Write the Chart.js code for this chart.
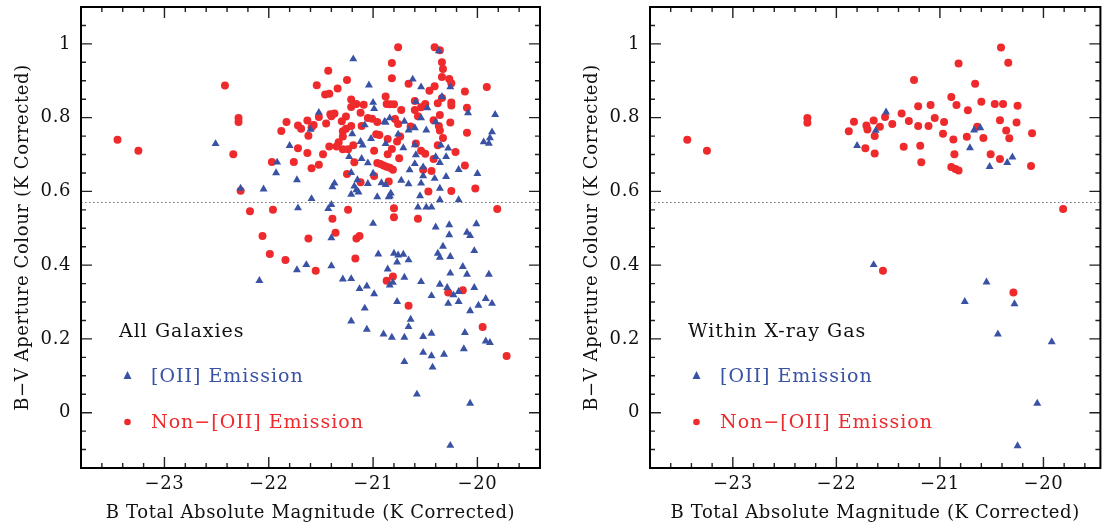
<!DOCTYPE html>
<html lang="en">
<head>
    <meta charset="UTF-8">
    <title>B-V Colour vs B Absolute Magnitude</title>
    <script src="https://cdn.jsdelivr.net/npm/chart.js"></script>
    <style>
        body {
            margin: 0;
            background: #fff;
        }
        .panel {
            position: absolute;
            top: 0;
        }
        #allPanel { left: 0; }
        #gasPanel { left: 560px; }
    </style>
</head>
<body>
    <canvas id="allPanel" class="panel" width="555" height="526"></canvas>
    <canvas id="gasPanel" class="panel" width="545" height="526"></canvas>

    <script>
        // ---- Data: B total absolute magnitude / B-V aperture colour ----

        // All galaxies, [OII] emission
        const allOiiMag = [
            -22.51, -22.27, -21.19, -21.04, -21.00, -20.99, -21.52, -21.08, -20.89, -21.60,
            -21.20, -21.80, -21.12, -21.10, -21.02, -20.88, -21.23, -21.11, -21.05, -21.92,
            -21.93, -21.73, -21.21, -21.00, -21.15, -21.37, -21.39, -21.18, -21.16, -21.14,
            -21.05, -20.92, -20.88, -21.21, -20.96, -20.85, -22.05, -21.59, -21.72, -21.43,
            -21.40, -21.00, -21.40,
            -20.37, -20.62, -20.54, -20.26, -20.34, -20.59, -20.48, -20.84, -20.70, -20.54,
            -20.40, -20.09, -19.83, -20.88, -20.76, -20.66, -20.60, -20.49, -20.71, -20.60,
            -20.59, -20.35, -20.28, -20.30, -20.40, -20.36, -20.60, -20.52, -20.65, -20.18,
            -20.00, -19.94, -19.88, -19.86, -19.89, -20.73, -20.66, -20.54, -20.52, -20.41,
            -20.30, -20.36, -20.84, -20.83, -20.55, -20.36, -20.18, -20.57, -20.49, -20.44,
            -20.40, -20.27, -20.27, -20.01, -20.10, -20.07, -20.33,
            -22.09, -21.73, -21.64, -21.40, -20.95, -21.29, -21.21, -21.13, -21.06, -20.99,
            -21.08, -21.21, -21.06, -20.90,
            -20.80, -20.76, -20.71, -20.77, -20.66, -20.86, -20.70, -20.84, -20.81, -20.54,
            -20.38, -20.36, -20.26, -20.03, -20.14, -20.26, -20.10, -19.89, -20.36, -20.29,
            -20.23, -20.18, -20.03, -20.44, -20.28, -20.18, -20.07, -19.99, -19.92, -19.86,
            -20.77, -20.64, -20.66, -20.82, -20.70, -20.52, -20.44, -20.12, -19.92, -19.88,
            -20.52, -20.44, -20.32, -20.13, -20.70, -20.43, -20.58, -20.07, -20.26
        ];
        const allOiiCol = [
            0.729, 0.608, 0.959, 0.888, 0.841, 0.824, 0.814, 0.780, 0.789, 0.768,
            0.756, 0.724, 0.735, 0.725, 0.743, 0.729, 0.694, 0.689, 0.677, 0.679,
            0.650, 0.631, 0.651, 0.649, 0.631, 0.622, 0.612, 0.614, 0.604, 0.598,
            0.621, 0.623, 0.618, 0.592, 0.585, 0.585, 0.606, 0.580, 0.555, 0.553,
            0.564, 0.513, 0.474,
            0.981, 0.904, 0.883, 0.883, 0.857, 0.843, 0.826, 0.799, 0.790, 0.799,
            0.788, 0.813, 0.808, 0.787, 0.755, 0.766, 0.772, 0.766, 0.718, 0.726,
            0.699, 0.725, 0.717, 0.694, 0.694, 0.678, 0.675, 0.666, 0.658, 0.659,
            0.648, 0.734, 0.745, 0.761, 0.730, 0.630, 0.620, 0.622, 0.642, 0.635,
            0.640, 0.608, 0.588, 0.595, 0.588, 0.577, 0.577, 0.557, 0.557, 0.557,
            0.503, 0.509, 0.482, 0.512, 0.489, 0.480, 0.451,
            0.358, 0.387, 0.401, 0.398, 0.430, 0.362, 0.363, 0.336, 0.343, 0.322,
            0.283, 0.248, 0.226, 0.213,
            0.432, 0.427, 0.429, 0.408, 0.414, 0.389, 0.367, 0.346, 0.353, 0.355,
            0.432, 0.421, 0.423, 0.439, 0.396, 0.378, 0.375, 0.375, 0.348, 0.339,
            0.319, 0.328, 0.339, 0.317, 0.296, 0.301, 0.276, 0.291, 0.309, 0.296,
            0.301, 0.253, 0.233, 0.204, 0.204, 0.206, 0.215, 0.217, 0.194, 0.190,
            0.163, 0.154, 0.158, 0.173, 0.138, 0.123, 0.050, 0.025, -0.089
        ];

        // All galaxies, no [OII] emission
        const allNonMag = [
            -22.42, -22.29, -22.29, -23.45, -23.25, -22.34, -22.27,
            -21.43, -21.25, -21.54, -21.34, -21.46, -21.42, -20.88, -21.21, -21.16, -21.21,
            -21.09, -20.87, -21.12, -21.41, -21.37, -21.40, -21.26, -21.52, -21.05, -21.01,
            -20.96, -21.63, -21.83, -21.30, -21.45, -21.72, -21.69, -21.57, -21.59, -21.21,
            -21.26, -21.29, -21.11, -21.88, -21.62, -21.29, -20.97, -20.94, -20.86, -21.33,
            -21.19, -21.42, -21.35, -21.29, -21.72, -21.24, -20.99, -21.63, -21.48, -20.86,
            -21.97, -21.76, -21.18, -20.96, -20.93, -20.90, -20.87, -20.84, -20.81, -21.52,
            -21.59, -21.25, -21.12, -20.99, -22.18, -21.96, -21.24, -21.39, -21.36, -22.06,
            -21.62, -21.16, -21.13, -20.82, -20.82,
            -20.76, -20.41, -20.36, -20.34, -20.33, -20.34, -20.27, -20.25, -20.66, -20.41,
            -20.46, -20.12, -19.91, -20.60, -20.34, -20.84, -20.80, -20.50, -20.38, -20.25,
            -20.25, -20.60, -20.54, -20.73, -20.10, -20.36, -20.57, -20.79, -20.76, -20.42,
            -20.26, -20.37, -20.36, -20.64, -20.10, -20.74, -20.33, -20.77, -20.59, -20.38,
            -20.82, -20.54, -20.50, -20.21, -20.75, -20.42, -20.12, -20.52, -20.44, -20.85,
            -20.47, -20.25, -20.02, -20.80, -20.80, -20.57, -19.81,
            -21.99, -21.84, -21.55, -21.17, -20.87, -20.81, -20.66, -20.28, -20.14, -19.95,
            -19.72
        ];
        const allNonCol = [
            0.887, 0.799, 0.788, 0.740, 0.710, 0.701, 0.602,
            0.927, 0.902, 0.888, 0.879, 0.863, 0.865, 0.857, 0.849, 0.837, 0.829,
            0.835, 0.837, 0.813, 0.809, 0.811, 0.804, 0.803, 0.802, 0.799, 0.797,
            0.788, 0.792, 0.788, 0.790, 0.784, 0.779, 0.770, 0.780, 0.774, 0.777,
            0.770, 0.763, 0.777, 0.764, 0.751, 0.749, 0.755, 0.753, 0.742, 0.733,
            0.725, 0.722, 0.722, 0.714, 0.717, 0.714, 0.710, 0.704, 0.701, 0.701,
            0.680, 0.680, 0.679, 0.677, 0.674, 0.670, 0.667, 0.664, 0.659, 0.672,
            0.663, 0.647, 0.625, 0.642, 0.546, 0.550, 0.550, 0.526, 0.488, 0.479,
            0.472, 0.472, 0.479, 0.907, 0.948,
            0.991, 0.991, 0.983, 0.950, 0.932, 0.910, 0.905, 0.893, 0.892, 0.885,
            0.873, 0.871, 0.883, 0.845, 0.853, 0.836, 0.836, 0.837, 0.839, 0.841,
            0.833, 0.821, 0.828, 0.821, 0.827, 0.807, 0.804, 0.796, 0.783, 0.793,
            0.787, 0.777, 0.765, 0.776, 0.759, 0.749, 0.745, 0.735, 0.730, 0.725,
            0.715, 0.710, 0.702, 0.707, 0.690, 0.688, 0.670, 0.659, 0.655, 0.627,
            0.600, 0.601, 0.608, 0.554, 0.530, 0.526, 0.552,
            0.430, 0.414, 0.385, 0.418, 0.358, 0.369, 0.290, 0.326, 0.332, 0.232,
            0.154
        ];

        // Galaxies within the X-ray gas, [OII] emission
        const gasOiiMag = [
            -21.80, -21.62, -21.52, -20.67, -20.61, -20.71, -20.52, -20.35, -20.30,
            -21.64, -20.55, -20.76, -20.28, -20.44, -19.92, -20.06, -20.25
        ];
        const gasOiiCol = [
            0.724, 0.765, 0.815, 0.766, 0.772, 0.718, 0.667, 0.678, 0.693,
            0.401, 0.354, 0.301, 0.295, 0.213, 0.192, 0.025, -0.090
        ];

        // Galaxies within the X-ray gas, no [OII] emission
        const gasNonMag = [
            -23.44, -23.25, -22.28, -22.28, -21.88, -21.83, -21.71, -21.70, -21.64, -21.63,
            -21.72, -21.63, -20.41, -20.34, -20.82, -21.25, -20.66, -20.89, -21.21, -21.09,
            -20.84, -20.60, -20.47, -20.39, -20.25, -20.73, -21.37, -21.53, -21.58, -21.46,
            -21.30, -21.21, -21.11, -21.05, -20.96, -20.42, -20.26, -20.36, -20.64, -20.97,
            -20.87, -20.74, -20.58, -20.33, -20.11, -21.35, -21.19, -21.18, -20.86, -20.51,
            -20.42, -20.89, -20.85, -20.82, -20.12, -19.81, -21.55, -20.29
        ];
        const gasNonCol = [
            0.740, 0.710, 0.799, 0.786, 0.763, 0.789, 0.779, 0.768, 0.792, 0.750,
            0.717, 0.703, 0.990, 0.949, 0.947, 0.902, 0.892, 0.856, 0.831, 0.834,
            0.834, 0.843, 0.837, 0.837, 0.832, 0.820, 0.811, 0.802, 0.775, 0.783,
            0.791, 0.777, 0.777, 0.799, 0.788, 0.793, 0.787, 0.765, 0.775, 0.756,
            0.741, 0.748, 0.745, 0.744, 0.758, 0.721, 0.724, 0.679, 0.701, 0.701,
            0.688, 0.666, 0.661, 0.657, 0.669, 0.552, 0.385, 0.326
        ];

        // Axis labels and the colour cut
        const magTicks = [-23, -22, -21, -20];
        const colTicks = [0, 0.2, 0.4, 0.6, 0.8, 1];
        const colourCut = 0.57;

        const BLUE = '#3a52a3';
        const RED = '#ee2a2d';
        const FONT = '"DejaVu Serif", serif';

        const zip = (xs, ys) => xs.map((x, i) => ({ x: x, y: ys[i] }));
        const minus = v => (v < 0 ? '\u2212' + Math.abs(v) : String(v));

        // Frame, inward ticks on all four sides, dotted colour cut and the key
        const framePlugin = {
            id: 'frame',
            beforeLayout(chart) {
                // wide, plotter-style lettering
                chart.ctx.letterSpacing = '0.6px';
            },
            beforeDraw(chart) {
                chart.ctx.letterSpacing = '0.6px';
            },
            afterDatasetsDraw(chart, args, opts) {
                const { ctx, chartArea: a, scales: { x, y } } = chart;
                ctx.save();

                // dotted line at the colour cut
                ctx.strokeStyle = '#777';
                ctx.lineWidth = 1;
                ctx.setLineDash([1.6, 2.4]);
                const yc = Math.round(y.getPixelForValue(colourCut)) + 0.5;
                ctx.beginPath();
                ctx.moveTo(a.left, yc);
                ctx.lineTo(a.right, yc);
                ctx.stroke();
                ctx.setLineDash([]);

                // tick marks
                ctx.strokeStyle = '#222';
                ctx.lineWidth = 1.4;
                ctx.beginPath();
                for (let i = Math.ceil(x.min / 0.2 - 1e-6); i * 0.2 <= x.max + 1e-6; i++) {
                    const px = x.getPixelForValue(i * 0.2);
                    const len = i % 5 === 0 ? 11 : 5;
                    ctx.moveTo(px, a.bottom); ctx.lineTo(px, a.bottom - len);
                    ctx.moveTo(px, a.top); ctx.lineTo(px, a.top + len);
                }
                for (let i = Math.ceil(y.min / 0.05 - 1e-6); i * 0.05 <= y.max + 1e-6; i++) {
                    const py = y.getPixelForValue(i * 0.05);
                    const len = i % 4 === 0 ? 11 : 5;
                    ctx.moveTo(a.left, py); ctx.lineTo(a.left + len, py);
                    ctx.moveTo(a.right, py); ctx.lineTo(a.right - len, py);
                }
                ctx.stroke();

                // frame
                ctx.strokeStyle = '#000';
                ctx.lineWidth = 2;
                ctx.strokeRect(a.left, a.top, a.right - a.left, a.bottom - a.top);

                // key
                const kx = a.left;
                ctx.textAlign = 'left';
                ctx.textBaseline = 'alphabetic';
                ctx.letterSpacing = '1px';
                ctx.font = '19px ' + FONT;
                ctx.fillStyle = '#111';
                ctx.fillText(opts.title, kx + 38, 337);

                ctx.fillStyle = BLUE;
                ctx.beginPath();
                ctx.moveTo(kx + 46.5, 371);
                ctx.lineTo(kx + 50.5, 379);
                ctx.lineTo(kx + 42.5, 379);
                ctx.closePath();
                ctx.fill();
                ctx.fillText('[OII] Emission', kx + 70, 382);

                ctx.fillStyle = RED;
                ctx.beginPath();
                ctx.arc(kx + 46.5, 422, 3.3, 0, Math.PI * 2);
                ctx.fill();
                ctx.fillText('Non\u2212[OII] Emission', kx + 70, 428);

                ctx.restore();
            }
        };

        function makePanel(canvasId, title, oii, non, padLeft, padRight, magMax) {
            return new Chart(document.getElementById(canvasId), {
                type: 'scatter',
                data: {
                    datasets: [
                        {
                            label: '[OII] Emission',
                            data: oii,
                            pointStyle: 'triangle',
                            pointRadius: 4.6,
                            backgroundColor: BLUE,
                            borderWidth: 0
                        },
                        {
                            label: 'Non-[OII] Emission',
                            data: non,
                            pointStyle: 'circle',
                            pointRadius: 4,
                            backgroundColor: RED,
                            borderWidth: 0
                        }
                    ]
                },
                options: {
                    responsive: false,
                    animation: false,
                    layout: { padding: { left: padLeft, right: padRight, top: 7, bottom: 0 } },
                    plugins: {
                        legend: { display: false },
                        tooltip: { enabled: false },
                        frame: { title: title }
                    },
                    scales: {
                        x: {
                            type: 'linear',
                            min: -23.8,
                            max: magMax,
                            grid: { display: false, drawTicks: false },
                            border: { display: false },
                            afterBuildTicks: s => { s.ticks = magTicks.map(v => ({ value: v })); },
                            afterFit: s => {
                                s.height = 58;
                                s.paddingLeft = 0;
                                s.paddingRight = 0;
                            },
                            ticks: {
                                padding: 6,
                                color: '#111',
                                font: { family: FONT, size: 18 },
                                callback: v => minus(v)
                            },
                            title: {
                                display: true,
                                text: 'B Total Absolute Magnitude (K Corrected)',
                                color: '#111',
                                font: { family: FONT, size: 18 },
                                padding: { top: 0, bottom: 2 }
                            }
                        },
                        y: {
                            type: 'linear',
                            min: -0.15,
                            max: 1.1,
                            grid: { display: false, drawTicks: false },
                            border: { display: false },
                            afterBuildTicks: s => { s.ticks = colTicks.map(v => ({ value: v })); },
                            afterFit: s => {
                                s.width = 81;
                                s.paddingTop = 0;
                                s.paddingBottom = 0;
                            },
                            ticks: {
                                padding: 10,
                                color: '#111',
                                font: { family: FONT, size: 18 },
                                callback: v => String(+v.toFixed(2))
                            },
                            title: {
                                display: true,
                                text: 'B\u2212V Aperture Colour (K Corrected)',
                                color: '#111',
                                font: { family: FONT, size: 18 },
                                padding: { top: 13, bottom: 0 }
                            }
                        }
                    }
                },
                plugins: [framePlugin]
            });
        }

        makePanel('allPanel', 'All Galaxies',
            zip(allOiiMag, allOiiCol), zip(allNonMag, allNonCol), 0, 15, -19.4);
        makePanel('gasPanel', 'Within X-ray Gas',
            zip(gasOiiMag, gasOiiCol), zip(gasNonMag, gasNonCol), 9, 1, -19.45);
    </script>
</body>
</html>
